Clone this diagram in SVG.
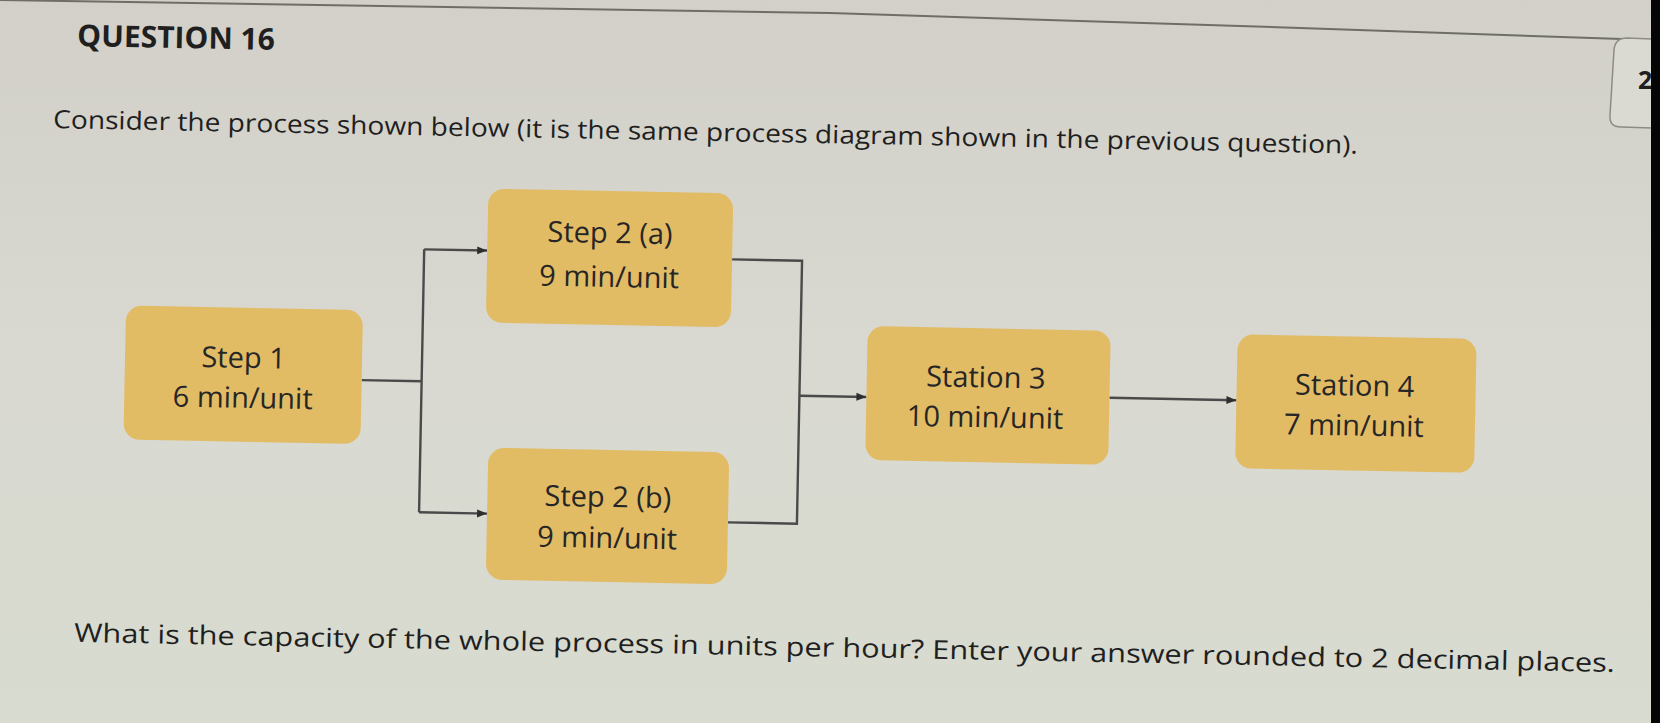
<svg xmlns="http://www.w3.org/2000/svg" width="1660" height="723" viewBox="0 0 1660 723">
  <defs>
    <linearGradient id="bg" x1="0" y1="0" x2="0" y2="1">
      <stop offset="0" stop-color="#d2d0c8"/>
      <stop offset="0.5" stop-color="#d9d9d1"/>
      <stop offset="1" stop-color="#d8dbcf"/>
    </linearGradient>
    <marker id="arrow" viewBox="0 0 10 10" refX="10" refY="5" markerWidth="11" markerHeight="10" markerUnits="userSpaceOnUse" orient="auto">
      <path d="M0,1 L10,5 L0,9 Z" fill="#2e2e2e"/>
    </marker>
    <style>
      .txt { font-family: "Open Sans", "Liberation Sans", sans-serif; fill: #1f1f1f; }
      .node rect { fill: #e2bb65; }
      .node text { font-family: "Open Sans", "Liberation Sans", sans-serif; font-size: 29px; fill: #262626; text-anchor: middle; }
      .conn path { fill: none; stroke: #4a4a4a; stroke-width: 2.4; }
    </style>
  </defs>

  <rect x="0" y="0" width="1660" height="723" fill="url(#bg)"/>
  <path d="M0,0 L830,13 L1300,28 L1652,40" fill="none" stroke="#6e6d68" stroke-width="2"/>
  <path d="M1652,39 L1627,38 Q1615,38 1614,50 L1610,115 Q1609,127 1621,127 L1652,128" fill="#dad9d2" stroke="#8c8b86" stroke-width="1.5"/>
  <text x="1638" y="89" class="txt" font-size="25" font-weight="bold">2</text>

  <g transform="rotate(1.12)">
    <text x="78" y="44.5" class="txt" font-size="30" font-weight="bold">QUESTION 16</text>
    <text x="55.5" y="127" class="txt" font-size="25" textLength="1305" lengthAdjust="spacingAndGlyphs">Consider the process shown below (it is the same process diagram shown in the previous question).</text>

    <g id="connectors" class="conn">
      <path d="M369,373 H429"/>
      <path d="M429,241 V504"/>
      <path d="M429,241 H492" marker-end="url(#arrow)"/>
      <path d="M429,504 H497" marker-end="url(#arrow)"/>
      <path d="M737,245 H807 V508 H738"/>
      <path d="M807,380 H874" marker-end="url(#arrow)"/>
      <path d="M1117,376 H1244" marker-end="url(#arrow)"/>
    </g>

    <g id="step1" class="node">
      <rect x="132" y="303" width="237" height="134" rx="16"/>
      <text x="250.5" y="363">Step 1</text>
      <text x="250.5" y="403">6 min/unit</text>
    </g>
    <g id="step2a" class="node">
      <rect x="492" y="179" width="245" height="134" rx="16"/>
      <text x="614.5" y="231">Step 2 (a)</text>
      <text x="614.5" y="275">9 min/unit</text>
    </g>
    <g id="step2b" class="node">
      <rect x="497" y="438" width="241" height="132" rx="16"/>
      <text x="617.5" y="495">Step 2 (b)</text>
      <text x="617.5" y="536">9 min/unit</text>
    </g>
    <g id="station3" class="node">
      <rect x="874" y="309" width="243" height="134" rx="16"/>
      <text x="993" y="368">Station 3</text>
      <text x="993" y="408">10 min/unit</text>
    </g>
    <g id="station4" class="node">
      <rect x="1244" y="310" width="239" height="134" rx="16"/>
      <text x="1362" y="369">Station 4</text>
      <text x="1362" y="409">7 min/unit</text>
    </g>

    <text x="86.5" y="640.3" class="txt" font-size="26" textLength="1541" lengthAdjust="spacingAndGlyphs">What is the capacity of the whole process in units per hour? Enter your answer rounded to 2 decimal places.</text>
  </g>

  <rect x="1651" y="0" width="9" height="723" fill="#050505"/>
</svg>
